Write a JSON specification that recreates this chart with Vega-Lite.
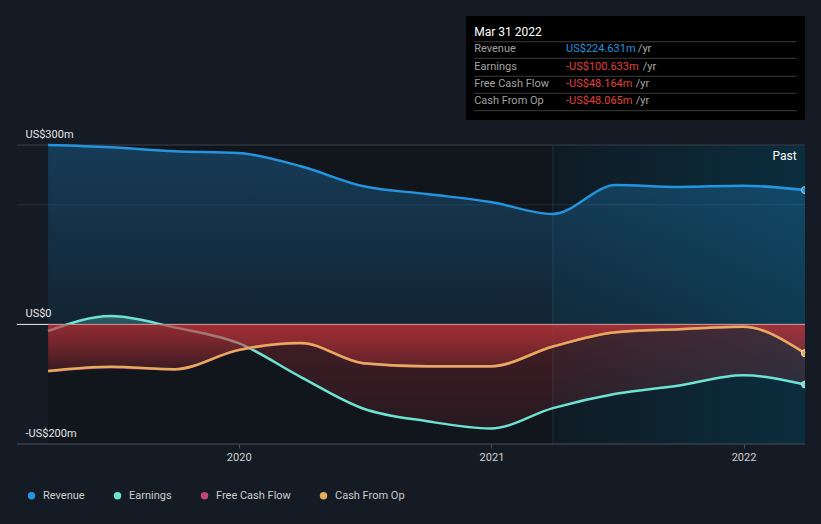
{
  "$schema": "https://vega.github.io/schema/vega-lite/v6.json",
  "width": 788,
  "height": 299,
  "autosize": {"type": "none"},
  "padding": {"left": 17, "top": 145, "right": 16, "bottom": 80},
  "background": "#151b24",
  "config": {
    "view": {"stroke": null},
    "font": "Roboto",
    "text": {"font": "Roboto"},
    "axis": {"labelFont": "Roboto"},
    "legend": {"labelFont": "Roboto"}
  },
  "data": {
    "values": [
      {"date": "2019-03-31", "metric": "Revenue", "value": 299.9},
      {"date": "2019-06-30", "metric": "Revenue", "value": 296.2},
      {"date": "2019-09-30", "metric": "Revenue", "value": 289.5},
      {"date": "2019-12-31", "metric": "Revenue", "value": 286.6},
      {"date": "2020-03-31", "metric": "Revenue", "value": 264.4},
      {"date": "2020-06-30", "metric": "Revenue", "value": 230.9},
      {"date": "2020-09-30", "metric": "Revenue", "value": 218.0},
      {"date": "2020-12-31", "metric": "Revenue", "value": 204.7},
      {"date": "2021-03-31", "metric": "Revenue", "value": 184.6},
      {"date": "2021-06-30", "metric": "Revenue", "value": 233.1},
      {"date": "2021-09-30", "metric": "Revenue", "value": 229.8},
      {"date": "2021-12-31", "metric": "Revenue", "value": 231.9},
      {"date": "2022-03-31", "metric": "Revenue", "value": 224.631},
      {"date": "2019-03-31", "metric": "Earnings", "value": -11},
      {"date": "2019-06-30", "metric": "Earnings", "value": 14},
      {"date": "2019-09-30", "metric": "Earnings", "value": -5},
      {"date": "2019-12-31", "metric": "Earnings", "value": -31},
      {"date": "2020-03-31", "metric": "Earnings", "value": -88},
      {"date": "2020-06-30", "metric": "Earnings", "value": -141},
      {"date": "2020-09-30", "metric": "Earnings", "value": -162},
      {"date": "2020-12-31", "metric": "Earnings", "value": -174},
      {"date": "2021-03-31", "metric": "Earnings", "value": -140},
      {"date": "2021-06-30", "metric": "Earnings", "value": -116},
      {"date": "2021-09-30", "metric": "Earnings", "value": -102},
      {"date": "2021-12-31", "metric": "Earnings", "value": -85},
      {"date": "2022-03-31", "metric": "Earnings", "value": -100.633},
      {"date": "2019-03-31", "metric": "Free Cash Flow", "value": -78.5},
      {"date": "2019-06-30", "metric": "Free Cash Flow", "value": -71.6},
      {"date": "2019-09-30", "metric": "Free Cash Flow", "value": -75.4},
      {"date": "2019-12-31", "metric": "Free Cash Flow", "value": -43.3},
      {"date": "2020-03-31", "metric": "Free Cash Flow", "value": -31.4},
      {"date": "2020-06-30", "metric": "Free Cash Flow", "value": -65.3},
      {"date": "2020-09-30", "metric": "Free Cash Flow", "value": -70.2},
      {"date": "2020-12-31", "metric": "Free Cash Flow", "value": -70.4},
      {"date": "2021-03-31", "metric": "Free Cash Flow", "value": -37.2},
      {"date": "2021-06-30", "metric": "Free Cash Flow", "value": -13.3},
      {"date": "2021-09-30", "metric": "Free Cash Flow", "value": -8.2},
      {"date": "2021-12-31", "metric": "Free Cash Flow", "value": -4.1},
      {"date": "2022-03-31", "metric": "Free Cash Flow", "value": -48.164},
      {"date": "2019-03-31", "metric": "Cash From Op", "value": -78},
      {"date": "2019-06-30", "metric": "Cash From Op", "value": -71},
      {"date": "2019-09-30", "metric": "Cash From Op", "value": -75},
      {"date": "2019-12-31", "metric": "Cash From Op", "value": -43},
      {"date": "2020-03-31", "metric": "Cash From Op", "value": -31},
      {"date": "2020-06-30", "metric": "Cash From Op", "value": -65},
      {"date": "2020-09-30", "metric": "Cash From Op", "value": -70},
      {"date": "2020-12-31", "metric": "Cash From Op", "value": -70},
      {"date": "2021-03-31", "metric": "Cash From Op", "value": -37},
      {"date": "2021-06-30", "metric": "Cash From Op", "value": -13},
      {"date": "2021-09-30", "metric": "Cash From Op", "value": -8},
      {"date": "2021-12-31", "metric": "Cash From Op", "value": -4},
      {"date": "2022-03-31", "metric": "Cash From Op", "value": -48.065}
    ]
  },
  "layer": [
    {
      "data": {"values": [{}]},
      "mark": {"type": "rect", "fill": "#11151c"},
      "encoding": {
        "x": {"datum": {"year": 2019, "month": 3, "date": 31, "utc": true}, "type": "temporal"},
        "x2": {"datum": {"year": 2021, "month": 3, "date": 31, "utc": true}},
        "y": {"datum": -200, "type": "quantitative"},
        "y2": {"datum": 300}
      }
    },
    {
      "data": {"values": [{}]},
      "mark": {"type": "rect", "fill": {"gradient": "linear", "x1": 0, "y1": 0, "x2": 1, "y2": 0, "stops": [{"offset": 0, "color": "#0f1b24"}, {"offset": 1, "color": "#0b2e3e"}]}},
      "encoding": {
        "x": {"datum": {"year": 2021, "month": 3, "date": 31, "utc": true}, "type": "temporal"},
        "x2": {"datum": {"year": 2022, "month": 3, "date": 31, "utc": true}},
        "y": {"datum": -200, "type": "quantitative"},
        "y2": {"datum": 300}
      }
    },
    {
      "data": {"values": [{}]},
      "mark": {"type": "rule", "stroke": "#1e3342", "strokeWidth": 1},
      "encoding": {
        "x": {"datum": {"year": 2021, "month": 3, "date": 31, "utc": true}, "type": "temporal"},
        "y": {"datum": -200, "type": "quantitative"},
        "y2": {"datum": 300}
      }
    },
    {
      "data": {"values": [{}]},
      "mark": {"type": "rule", "stroke": "#3a3f47", "strokeWidth": 1},
      "encoding": {"y": {"datum": 300, "type": "quantitative"}}
    },
    {
      "data": {"values": [{}]},
      "mark": {"type": "rule", "stroke": "#ffffff", "strokeOpacity": 0.09, "strokeWidth": 1},
      "encoding": {"y": {"datum": 200, "type": "quantitative"}}
    },
    {
      "data": {"values": [{}]},
      "mark": {"type": "rule", "stroke": "#4a4f57", "strokeWidth": 1},
      "encoding": {"y": {"datum": -200, "type": "quantitative"}}
    },
    {
      "data": {"values": [{}]},
      "mark": {"type": "rule", "stroke": "#eeeeee", "strokeWidth": 1},
      "encoding": {"y": {"datum": 0, "type": "quantitative"}}
    },
    {
      "transform": [{"filter": "datum.metric == 'Revenue'"}],
      "mark": {"type": "area", "interpolate": "monotone", "fill": {"gradient": "linear", "x1": 0, "y1": 0, "x2": 0, "y2": 1, "stops": [{"offset": 0, "color": "rgba(35,148,223,0.30)"}, {"offset": 1, "color": "rgba(35,148,223,0.12)"}]}},
      "encoding": {
        "x": {"field": "date", "type": "temporal"},
        "y": {"field": "value", "type": "quantitative"},
        "y2": {"datum": 0}
      }
    },
    {
      "transform": [{"filter": "datum.metric == 'Revenue'"}],
      "mark": {"type": "line", "interpolate": "monotone", "stroke": "#2394df", "strokeWidth": 2.5},
      "encoding": {
        "x": {
          "field": "date", "type": "temporal",
          "scale": {"type": "utc", "domain": [{"year": 2019, "month": 2, "date": 14, "utc": true}, {"year": 2022, "month": 3, "date": 31, "utc": true}]},
          "axis": {"title": null, "zindex": 2, "format": "%Y", "formatType": "utc", "tickCount": {"interval": "year", "step": 1}, "domain": false, "grid": false, "ticks": true, "tickColor": "#4a4f57", "tickSize": 4, "labelPadding": 3, "labelColor": "#d0d0d0", "labelFontSize": 11, "labelFlush": false}
        },
        "y": {
          "field": "value", "type": "quantitative",
          "scale": {"domain": [-200, 300], "nice": false, "zero": false},
          "axis": {"title": null, "zindex": 2, "values": [-200, 0, 300], "grid": false, "domain": false, "ticks": false, "tickSize": 0, "labelAlign": "left", "labelBaseline": "alphabetic", "labelPadding": -8, "labelOffset": -8, "labelColor": "#e6e6e6", "labelFontSize": 11, "labelExpr": "datum.value == 0 ? 'US$0' : (datum.value < 0 ? '-US$' + (-datum.value) + 'm' : 'US$' + datum.value + 'm')"}
        }
      }
    },
    {
      "transform": [{"filter": "datum.metric == 'Earnings'"}],
      "mark": {"type": "area", "interpolate": "monotone", "fill": {"gradient": "linear", "x1": 0, "y1": 0, "x2": 0, "y2": 1, "stops": [{"offset": 0, "color": "rgba(108,227,211,0.32)"}, {"offset": 0.074, "color": "rgba(108,227,211,0.2)"}, {"offset": 0.076, "color": "rgba(200,52,58,0.28)"}, {"offset": 1, "color": "rgba(200,52,58,0.12)"}]}},
      "encoding": {
        "x": {"field": "date", "type": "temporal"},
        "y": {"field": "value", "type": "quantitative"},
        "y2": {"datum": 0}
      }
    },
    {
      "transform": [{"filter": "datum.metric == 'Earnings'"}],
      "mark": {"type": "line", "interpolate": "monotone", "stroke": "#6ce3d3", "strokeWidth": 2.5},
      "encoding": {
        "x": {"field": "date", "type": "temporal"},
        "y": {"field": "value", "type": "quantitative"}
      }
    },
    {
      "transform": [{"filter": "datum.metric == 'Free Cash Flow'"}],
      "mark": {"type": "area", "interpolate": "monotone", "fill": {"gradient": "linear", "x1": 0, "y1": 0, "x2": 0, "y2": 1, "stops": [{"offset": 0, "color": "rgba(200,52,58,0.45)"}, {"offset": 1, "color": "rgba(200,52,58,0.1)"}]}},
      "encoding": {
        "x": {"field": "date", "type": "temporal"},
        "y": {"field": "value", "type": "quantitative"},
        "y2": {"datum": 0}
      }
    },
    {
      "transform": [{"filter": "datum.metric == 'Free Cash Flow'"}],
      "mark": {"type": "line", "interpolate": "monotone", "stroke": "#c2447e", "strokeWidth": 2.5},
      "encoding": {
        "x": {"field": "date", "type": "temporal"},
        "y": {"field": "value", "type": "quantitative"}
      }
    },
    {
      "transform": [{"filter": "datum.metric == 'Cash From Op'"}],
      "mark": {"type": "area", "interpolate": "monotone", "fill": {"gradient": "linear", "x1": 0, "y1": 0, "x2": 0, "y2": 1, "stops": [{"offset": 0, "color": "rgba(200,52,58,0.45)"}, {"offset": 1, "color": "rgba(200,52,58,0.1)"}]}},
      "encoding": {
        "x": {"field": "date", "type": "temporal"},
        "y": {"field": "value", "type": "quantitative"},
        "y2": {"datum": 0}
      }
    },
    {
      "transform": [{"filter": "datum.metric == 'Cash From Op'"}],
      "mark": {"type": "line", "interpolate": "monotone", "stroke": "#e5ac5c", "strokeWidth": 2.5},
      "encoding": {
        "x": {"field": "date", "type": "temporal"},
        "y": {"field": "value", "type": "quantitative"}
      }
    },
    {
      "transform": [{"filter": "utcyear(toDate(datum.date)) == 2022 && utcmonth(toDate(datum.date)) == 2"}],
      "mark": {"type": "point", "filled": true, "size": 50, "opacity": 1, "stroke": "#ffffff", "strokeOpacity": 0.6, "strokeWidth": 1, "clip": true},
      "encoding": {
        "x": {"field": "date", "type": "temporal"},
        "y": {"field": "value", "type": "quantitative"},
        "color": {
          "field": "metric", "type": "nominal",
          "scale": {"domain": ["Revenue", "Earnings", "Free Cash Flow", "Cash From Op"], "range": ["#2394df", "#6ce3d3", "#c2447e", "#e5ac5c"]},
          "legend": {"orient": "none", "legendX": 9, "legendY": 345, "direction": "horizontal", "title": null, "symbolType": "circle", "symbolSize": 55, "symbolStrokeWidth": 0, "labelColor": "#cccccc", "labelFontSize": 11, "labelOffset": 6, "columnPadding": 27, "padding": 0}
        }
      }
    },
    {
      "data": {"values": [{}]},
      "mark": {"type": "text", "text": "Past", "align": "right", "baseline": "middle", "fill": "#ffffff", "fontSize": 12},
      "encoding": {
        "x": {"datum": {"year": 2022, "month": 3, "date": 19, "utc": true}, "type": "temporal"},
        "y": {"datum": 281.6, "type": "quantitative"}
      }
    },
    {
      "data": {"values": [{}]},
      "mark": {"type": "rect", "fill": "#000000"},
      "encoding": {
        "x": {"datum": {"year": 2020, "month": 11, "date": 25, "utc": true}, "type": "temporal"},
        "x2": {"datum": {"year": 2022, "month": 3, "date": 31, "utc": true}},
        "y": {"datum": 515.7, "type": "quantitative"},
        "y2": {"datum": 341.8}
      }
    },
    {
      "data": {"values": [{}]},
      "encoding": {
        "x": {"datum": {"year": 2020, "month": 12, "date": 7, "utc": true}, "type": "temporal"},
        "x2": {"datum": {"year": 2022, "month": 3, "date": 19, "utc": true}}
      },
      "layer": [
        {"mark": {"type": "rule", "stroke": "#3c3c3c", "strokeWidth": 1}, "encoding": {"y": {"datum": 472.7, "type": "quantitative"}}},
        {"mark": {"type": "rule", "stroke": "#3c3c3c", "strokeWidth": 1}, "encoding": {"y": {"datum": 445, "type": "quantitative"}}},
        {"mark": {"type": "rule", "stroke": "#3c3c3c", "strokeWidth": 1}, "encoding": {"y": {"datum": 414.9, "type": "quantitative"}}},
        {"mark": {"type": "rule", "stroke": "#3c3c3c", "strokeWidth": 1}, "encoding": {"y": {"datum": 386.5, "type": "quantitative"}}},
        {"mark": {"type": "rule", "stroke": "#3c3c3c", "strokeWidth": 1}, "encoding": {"y": {"datum": 357.4, "type": "quantitative"}}}
      ]
    },
    {
      "data": {"values": [{}]},
      "mark": {"type": "text", "text": "Mar 31 2022", "align": "left", "baseline": "middle", "fill": "#ffffff", "fontSize": 12},
      "encoding": {
        "x": {"datum": {"year": 2020, "month": 12, "date": 7, "utc": true}, "type": "temporal"},
        "y": {"datum": 489.5, "type": "quantitative"}
      }
    },
    {
      "data": {"values": [{"label": "Revenue", "value": "US$224.631m"}]},
      "encoding": {"y": {"datum": 460, "type": "quantitative"}},
      "layer": [
        {"mark": {"type": "text", "align": "left", "baseline": "middle", "fill": "#a0a0a0", "fontSize": 11}, "encoding": {"x": {"datum": {"year": 2020, "month": 12, "date": 7, "utc": true}, "type": "temporal"}, "text": {"field": "label"}}},
        {"mark": {"type": "text", "align": "left", "baseline": "middle", "fill": "#2394df", "fontSize": 11}, "encoding": {"x": {"datum": {"year": 2021, "month": 4, "date": 19, "utc": true}, "type": "temporal"}, "text": {"field": "value"}}},
        {"mark": {"type": "text", "text": "/yr", "align": "left", "baseline": "middle", "fill": "#a9a9a9", "fontSize": 11}, "encoding": {"x": {"datum": {"year": 2021, "month": 8, "date": 1, "utc": true}, "type": "temporal"}}}
      ]
    },
    {
      "data": {"values": [{"label": "Earnings", "value": "-US$100.633m"}]},
      "encoding": {"y": {"datum": 431, "type": "quantitative"}},
      "layer": [
        {"mark": {"type": "text", "align": "left", "baseline": "middle", "fill": "#a0a0a0", "fontSize": 11}, "encoding": {"x": {"datum": {"year": 2020, "month": 12, "date": 7, "utc": true}, "type": "temporal"}, "text": {"field": "label"}}},
        {"mark": {"type": "text", "align": "left", "baseline": "middle", "fill": "#e2403d", "fontSize": 11}, "encoding": {"x": {"datum": {"year": 2021, "month": 4, "date": 19, "utc": true}, "type": "temporal"}, "text": {"field": "value"}}},
        {"mark": {"type": "text", "text": "/yr", "align": "left", "baseline": "middle", "fill": "#a9a9a9", "fontSize": 11}, "encoding": {"x": {"datum": {"year": 2021, "month": 8, "date": 8, "utc": true}, "type": "temporal"}}}
      ]
    },
    {
      "data": {"values": [{"label": "Free Cash Flow", "value": "-US$48.164m"}]},
      "encoding": {"y": {"datum": 402, "type": "quantitative"}},
      "layer": [
        {"mark": {"type": "text", "align": "left", "baseline": "middle", "fill": "#a0a0a0", "fontSize": 11}, "encoding": {"x": {"datum": {"year": 2020, "month": 12, "date": 7, "utc": true}, "type": "temporal"}, "text": {"field": "label"}}},
        {"mark": {"type": "text", "align": "left", "baseline": "middle", "fill": "#e2403d", "fontSize": 11}, "encoding": {"x": {"datum": {"year": 2021, "month": 4, "date": 19, "utc": true}, "type": "temporal"}, "text": {"field": "value"}}},
        {"mark": {"type": "text", "text": "/yr", "align": "left", "baseline": "middle", "fill": "#a9a9a9", "fontSize": 11}, "encoding": {"x": {"datum": {"year": 2021, "month": 7, "date": 29, "utc": true}, "type": "temporal"}}}
      ]
    },
    {
      "data": {"values": [{"label": "Cash From Op", "value": "-US$48.065m"}]},
      "encoding": {"y": {"datum": 374, "type": "quantitative"}},
      "layer": [
        {"mark": {"type": "text", "align": "left", "baseline": "middle", "fill": "#a0a0a0", "fontSize": 11}, "encoding": {"x": {"datum": {"year": 2020, "month": 12, "date": 7, "utc": true}, "type": "temporal"}, "text": {"field": "label"}}},
        {"mark": {"type": "text", "align": "left", "baseline": "middle", "fill": "#e2403d", "fontSize": 11}, "encoding": {"x": {"datum": {"year": 2021, "month": 4, "date": 19, "utc": true}, "type": "temporal"}, "text": {"field": "value"}}},
        {"mark": {"type": "text", "text": "/yr", "align": "left", "baseline": "middle", "fill": "#a9a9a9", "fontSize": 11}, "encoding": {"x": {"datum": {"year": 2021, "month": 7, "date": 29, "utc": true}, "type": "temporal"}}}
      ]
    }
  ]
}
